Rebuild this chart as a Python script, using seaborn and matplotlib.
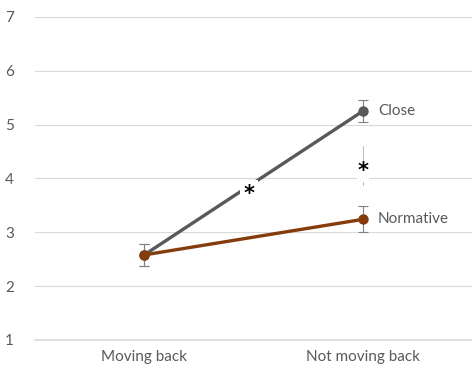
import matplotlib
matplotlib.use("Agg")
import matplotlib.pyplot as plt
import seaborn as sns
import pandas as pd

conditions = ["Moving back", "Not moving back"]
groups = ["Close", "Normative"]
close_means = [2.58, 5.25]
close_err = [0.21, 0.20]
normative_means = [2.58, 3.24]
normative_err = [0.21, 0.24]
yticks = [1, 2, 3, 4, 5, 6, 7]

colors = {"Close": "#595959", "Normative": "#843C0C"}
text_color = "#595959"

sns.set_theme(style="white")
plt.rcParams["font.family"] = ["Lato", "DejaVu Sans"]

df = pd.DataFrame({
    "condition": conditions * 2,
    "group": ["Close"] * 2 + ["Normative"] * 2,
    "mean": close_means + normative_means,
    "err": close_err + normative_err,
})

fig = plt.figure(figsize=(4.72, 3.74), dpi=100)
ax = fig.add_axes([0.074, 0.091, 0.926, 0.8636])

sns.lineplot(data=df, x="condition", y="mean", hue="group", palette=colors,
             marker="o", markersize=7.5, markeredgewidth=0, linewidth=2.4,
             legend=False, ax=ax, zorder=3)

for g in groups:
    sub = df[df["group"] == g]
    ax.errorbar(range(len(sub)), sub["mean"], yerr=sub["err"], fmt="none",
                ecolor="#7F7F7F", elinewidth=0.8, capsize=3.5, capthick=0.8,
                zorder=2)

ax.set_xlim(-0.5, 1.5)
ax.set_ylim(1, 7)
ax.set_yticks(yticks)
ax.set_xlabel("")
ax.set_ylabel("")
ax.grid(axis="y", color="#D9D9D9", linewidth=0.8)
ax.grid(axis="x", visible=False)
for side in ["top", "right", "left"]:
    ax.spines[side].set_visible(False)
ax.spines["bottom"].set_color("#D9D9D9")
ax.tick_params(axis="both", length=0, colors=text_color, labelsize=11)
ax.tick_params(axis="x", pad=7)
ax.tick_params(axis="y", pad=15)

# series labels
ax.text(1.07, close_means[1], "Close", color=text_color, fontsize=11,
        va="center", ha="left")
ax.text(1.07, normative_means[1], "Normative", color=text_color, fontsize=11,
        va="center", ha="left")

# significance markers
ax.plot([1, 1], [3.88, 4.6], color="#BFBFBF", linewidth=0.8, zorder=1)
ax.text(1.0, 4.13, "*", fontsize=15, fontweight="bold", family="DejaVu Sans",
        ha="center", va="center", color="black",
        bbox=dict(facecolor="white", edgecolor="none", pad=0.5), zorder=4)
ax.text(0.48, 3.72, "*", fontsize=15, fontweight="bold", family="DejaVu Sans",
        ha="center", va="center", color="black",
        bbox=dict(facecolor="white", edgecolor="none", pad=2.5), zorder=4)

fig.savefig("out.png", dpi=100)
